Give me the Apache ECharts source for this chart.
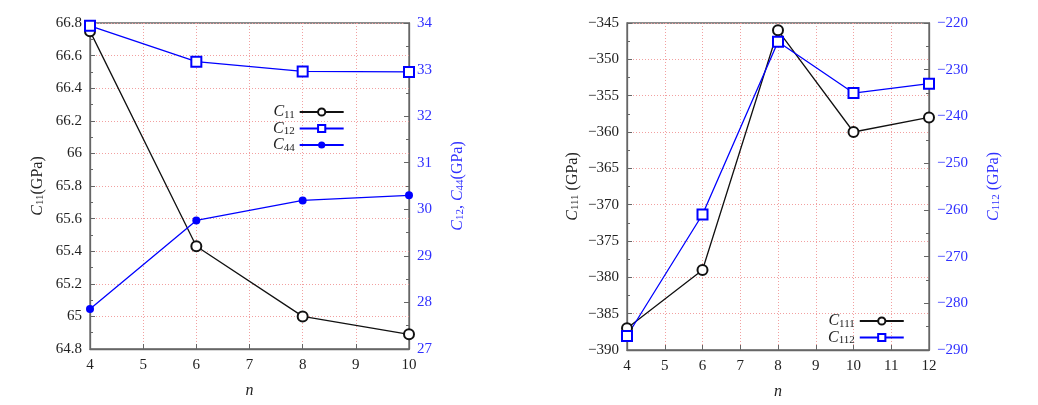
<!DOCTYPE html>
<html>
<head>
<meta charset="utf-8">
<script src="https://cdn.jsdelivr.net/npm/echarts@6/dist/echarts.min.js"></script>
<style>
  html, body { margin: 0; padding: 0; background: #fff; }
  #chart { width: 1038px; height: 405px; }
</style>
</head>
<body>
<div id="chart"></div>
<script>
var nLeft = [4, 6, 8, 10];
var c11 = [66.75, 65.43, 65.0, 64.89];
var c12 = [33.94, 33.17, 32.96, 32.95];
var c44 = [27.86, 29.76, 30.19, 30.30];

var nRight = [4, 6, 8, 10, 12];
var c111 = [-387, -379, -346, -360, -358];
var c112 = [-287, -261, -224, -235, -233];

var blue = '#0000ff';
var blueText = '#3030ff';
var font = 'Liberation Serif';

function pairs(xs, ys) {
	var out = [];
	for (var i = 0; i < xs.length; i++) out.push([xs[i], ys[i]]);
	return out;
}

function minus(v) {
	return String(v).replace('-', '\u2212');
}

// subscripts: small fragment pushed to the bottom of the line box
var rich = function (color) {
	return {
		i : { fontFamily : font, fontStyle : 'italic', fontSize : 16, lineHeight : 17, color : color },
		s : { fontFamily : font, fontSize : 11, lineHeight : 11, verticalAlign : 'bottom', color : color },
		n : { fontFamily : font, fontSize : 16, lineHeight : 17, color : color }
	};
};

var gridLine = { show : true, lineStyle : { color : '#f2a0a0', type : [ 1, 2 ], width : 1 } };
var frame = { show : true, lineStyle : { color : '#666', width : 1.3 } };

function xAxis(idx, min, max) {
	return {
		type : 'value', gridIndex : idx, min : min, max : max, interval : 1,
		name : 'n', nameLocation : 'middle', nameGap : 34,
		nameTextStyle : { fontFamily : font, fontStyle : 'italic', fontSize : 16, color : '#222' },
		axisLine : frame,
		axisTick : { inside : true, length : 5, lineStyle : { color : '#666' } },
		axisLabel : { fontFamily : font, fontSize : 15, color : '#222', margin : 9 },
		splitLine : gridLine
	};
}

function yAxis(idx, pos, min, max, step, name, color, gap, split) {
	return {
		type : 'value', gridIndex : idx, position : pos, min : min, max : max, interval : step,
		name : name, nameLocation : 'middle', nameGap : gap, nameRotate : 90,
		nameTextStyle : { rich : rich(color) },
		axisLine : frame,
		axisTick : { inside : true, length : 5, lineStyle : { color : '#666' } },
		minorTick : { show : true, splitNumber : 2, length : 3, lineStyle : { color : '#666' } },
		axisLabel : { fontFamily : font, fontSize : 15, color : color, margin : 8,
			formatter : function (v) { return minus(Math.round(v * 100) / 100); } },
		splitLine : split ? gridLine : { show : false }
	};
}

var legendFmt = function (name) {
	return '{i|C}{s|' + name.slice(1) + '}';
};

var chart = echarts.init(document.getElementById('chart'));
chart.setOption({
	animation : false,
	backgroundColor : '#fff',
	grid : [
		{ left : 90, right : 629, top : 23, bottom : 56, show : true, borderColor : '#666', borderWidth : 1.3 },
		{ left : 627, right : 109, top : 23, bottom : 55, show : true, borderColor : '#666', borderWidth : 1.3 }
	],
	xAxis : [ xAxis(0, 4, 10), xAxis(1, 4, 12) ],
	yAxis : [
		yAxis(0, 'left', 64.8, 66.8, 0.2, '{i|C}{s|11}{n|(GPa)}', '#222', 44, true),
		yAxis(0, 'right', 27, 34, 1, '{i|C}{s|12}{n|, }{i|C}{s|44}{n|(GPa)}', blueText, 40, false),
		yAxis(1, 'left', -390, -345, 5, '{i|C}{s|111}{n| (GPa)}', '#222', 46, true),
		yAxis(1, 'right', -290, -220, 10, '{i|C}{s|112}{n| (GPa)}', blueText, 56, false)
	],
	legend : [ {
		data : [ 'C11', 'C12', 'C44' ],
		left : 268, top : 99, orient : 'vertical', align : 'right',
		itemWidth : 44, itemHeight : 9, itemGap : 0,
		formatter : legendFmt,
		textStyle : { rich : rich('#222') }
	}, {
		data : [ 'C111', 'C112' ],
		left : 823, top : 308, orient : 'vertical', align : 'right',
		itemWidth : 44, itemHeight : 9, itemGap : 0,
		formatter : legendFmt,
		textStyle : { rich : rich('#222') }
	} ],
	series : [ {
		name : 'C11', type : 'line', xAxisIndex : 0, yAxisIndex : 0,
		data : pairs(nLeft, c11), symbol : 'emptyCircle', symbolSize : 10,
		itemStyle : { color : '#111', borderWidth : 1 }, lineStyle : { color : '#111', width : 1.3 }
	}, {
		name : 'C12', type : 'line', xAxisIndex : 0, yAxisIndex : 1,
		data : pairs(nLeft, c12), symbol : 'emptyRect', symbolSize : 10,
		itemStyle : { color : blue, borderWidth : 1 }, lineStyle : { color : blue, width : 1.3 }
	}, {
		name : 'C44', type : 'line', xAxisIndex : 0, yAxisIndex : 1,
		data : pairs(nLeft, c44), symbol : 'circle', symbolSize : 8,
		itemStyle : { color : blue }, lineStyle : { color : blue, width : 1.3 }
	}, {
		name : 'C111', type : 'line', xAxisIndex : 1, yAxisIndex : 2,
		data : pairs(nRight, c111), symbol : 'emptyCircle', symbolSize : 10,
		itemStyle : { color : '#111', borderWidth : 1 }, lineStyle : { color : '#111', width : 1.3 }
	}, {
		name : 'C112', type : 'line', xAxisIndex : 1, yAxisIndex : 3,
		data : pairs(nRight, c112), symbol : 'emptyRect', symbolSize : 10,
		itemStyle : { color : blue, borderWidth : 1 }, lineStyle : { color : blue, width : 1.3 }
	} ]
});
</script>
</body>
</html>
